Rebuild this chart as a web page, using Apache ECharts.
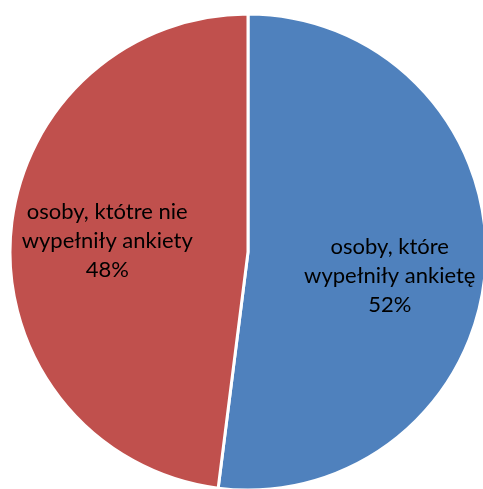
<!DOCTYPE html>
<html><head><meta charset="utf-8">
<script src="https://cdn.jsdelivr.net/npm/echarts@6/dist/echarts.min.js"></script>
<style>html,body{margin:0;padding:0;background:#fff}#c{width:483px;height:489px}</style>
</head><body><div id="c"></div>
<script>
var categories = ['osoby, które\nwypełniły ankietę', 'osoby, któtre nie\nwypełniły ankiety'];
var values = [52, 48];
var colors = ['#4F81BD', '#C0504D'];
var offsets = [[20, 16], [-19, -3]];
var chart = echarts.init(document.getElementById('c'));
chart.setOption({
  animation: false,
  series: [{
    type: 'pie',
    center: [248, 252],
    radius: [0, 238],
    startAngle: 90,
    clockwise: true,
    data: categories.map(function (n, i) {
      return { name: n, value: values[i], itemStyle: { color: colors[i] }, label: { offset: offsets[i] } };
    }),
    itemStyle: { borderColor: '#fff', borderWidth: 3 },
    label: {
      show: true, position: 'inside', color: '#000',
      fontFamily: 'Lato', fontSize: 22, lineHeight: 29, align: 'center',
      formatter: function (p) { return p.name + '\n' + p.value + '%'; }
    },
    labelLine: { show: false },
    emphasis: { disabled: true }
  }]
});
</script></body></html>
